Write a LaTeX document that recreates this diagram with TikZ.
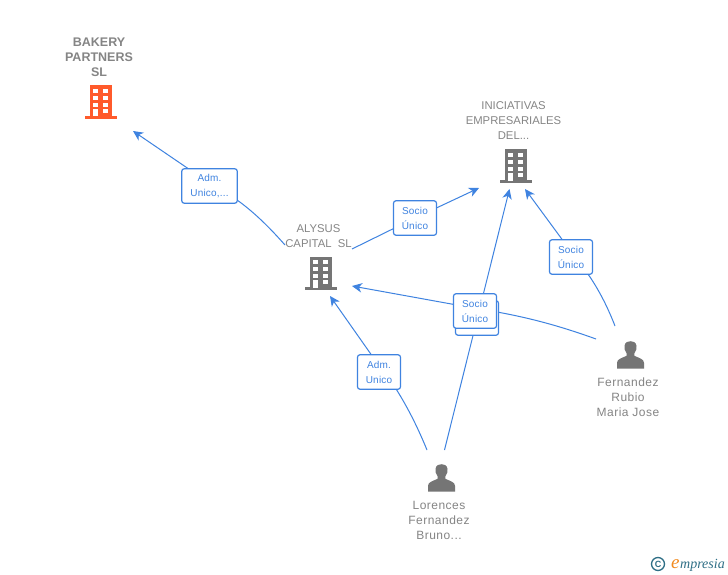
\documentclass[tikz,border=0pt]{standalone}
\usepackage{fontspec}
\setmainfont{Liberation Sans}
\newfontfamily\logofont{Liberation Serif}
\newfontfamily\spacedfont[LetterSpace=4]{Liberation Sans}
\newfontfamily\labelfont[LetterSpace=2]{Liberation Sans}
\usetikzlibrary{arrows.meta}
\definecolor{linkblue}{HTML}{3F83E0}
\definecolor{labgray}{HTML}{858585}
\definecolor{icongray}{HTML}{757575}
\definecolor{iconorange}{HTML}{FF5A2B}
\definecolor{logoteal}{HTML}{2F6F86}
\definecolor{logoorange}{HTML}{F28A1E}
\tikzset{
  x=1pt,y=-1pt,
  conn/.style={draw=linkblue,line width=1pt,-{Stealth[length=10pt,width=9.5pt,inset=3pt]}},
  lab/.style={draw=linkblue,fill=white,line width=1.2pt,rounded corners=2.5pt,minimum width=43pt,minimum height=34.5pt,inner sep=0pt,align=center,text=linkblue,font=\labelfont\fontsize{10}{15}\selectfont},
  nametext/.style={align=center,text=labgray,font=\fontsize{11.3}{15}\selectfont},
  persontext/.style={align=center,text=labgray,font=\spacedfont\fontsize{12}{15}\selectfont},
  bnametext/.style={align=center,text=labgray,font=\fontsize{12.5}{15}\selectfont\bfseries},
  pics/bldg/.style={code={
    \fill[#1] (-11,-17) rectangle (11,14);
    \fill[#1] (-16,13.7) rectangle (16,16.5);
    \foreach \yy in {-13.2,-6.5,0.2}{
      \fill[white] (-7.7,\yy) rectangle (-2.7,\yy+4);
      \fill[white] (2.3,\yy) rectangle (7.3,\yy+4);}
    \fill[white] (-7.7,6.8) rectangle (-2.7,14);
    \fill[white] (2.3,6.8) rectangle (7.3,10.8);
  }},
  pics/person/.style={code={
    \fill[icongray] (-13.5,13.5) -- (-13.5,8) .. controls (-13.5,4) and (-9,3.2) .. (-3.8,0.8)
      -- (-3.8,-1.5) .. controls (-5.8,-4) and (-6.3,-7) .. (-6,-9)
      .. controls (-5.6,-13) and (-2.5,-13.8) .. (0,-13.8)
      .. controls (2.5,-13.8) and (5.6,-13) .. (6,-9)
      .. controls (6.3,-7) and (5.8,-4) .. (3.8,-1.5)
      -- (3.8,0.8) .. controls (9,3.2) and (13.5,4) .. (13.5,8) -- (13.5,13.5) -- cycle;
  }}
}
\begin{document}
\begin{tikzpicture}
\useasboundingbox[fill=white] (0,0) rectangle (728,575);
% icons
\pic at (101,102.5) {bldg=iconorange};
\pic at (321,273.5) {bldg=icongray};
\pic at (516,166.5) {bldg=icongray};
\pic at (630.5,355) {person};
\pic at (441.5,478) {person};
% names
\node[bnametext] (bakery) at (99,57) {BAKERY\\PARTNERS\\SL};
\node[nametext] (alysus) at (318.5,236) {ALYSUS\\CAPITAL\ \ SL};
\node[nametext] (inic) at (513.5,121) {INICIATIVAS\\EMPRESARIALES\\DEL...};
\node[persontext] (fern) at (628,397) {Fernandez\\Rubio\\Maria Jose};
\node[persontext] (lor) at (439,520) {Lorences\\Fernandez\\Bruno...};
% connector end points
\coordinate (e1s) at (285,245); \coordinate (e1t) at (133,131);
\coordinate (e2s) at (352,249); \coordinate (e2t) at (479,188);
\coordinate (e3s) at (427,450); \coordinate (e3t) at (330,296);
\coordinate (e4s) at (444.5,450); \coordinate (e4t) at (509.5,189);
\coordinate (e5s) at (596,339); \coordinate (e5t) at (352,286);
\coordinate (e6s) at (615,326); \coordinate (e6t) at (525,189);
\draw[conn] (e1s) .. controls (270,228) and (254,212) .. (237,200) -- (188,168.5) -- (e1t);
\draw[conn] (e2s) -- (415,218) -- (e2t);
\draw[conn] (e3s) .. controls (418,428) and (408,408) .. (396.7,390) -- (371,354.3) -- (e3t);
\draw[conn] (e4s) -- (e4t);
\draw[conn] (e5s) .. controls (560,326) and (530,318) .. (497,312) -- (453,304.3) -- (e5t);
\draw[conn] (e6s) .. controls (608,308) and (600,292) .. (590,277) -- (562,239.3) -- (e6t);
% labels
\node[lab,minimum width=55.5pt] (l1) at (209.5,186) {Adm.\\Unico,...};
\node[lab] (l2) at (415,218) {Socio\\Único};
\node[lab] (l3) at (379,372) {Adm.\\Unico};
\node[lab] (l6) at (571,257) {Socio\\Único};
\node[lab] (l4) at (477,318) {};
\node[lab] (l5) at (475,311) {Socio\\Único};
% logo
\node[draw=logoteal,circle,line width=1.3pt,minimum size=13pt,inner sep=0pt,text=logoteal,font=\fontsize{9}{9}\selectfont\bfseries] (copy) at (658,564) {C};
\node[inner sep=0pt,anchor=base west,text=logoorange,font=\fontsize{19}{19}\selectfont\logofont\itshape] (elogo) at (671,568.5) {e};
\node[inner sep=0pt,anchor=base west,text=logoteal,font=\fontsize{14}{14}\selectfont\logofont\itshape] (rest) at (680,568.5) {mpresia};
\end{tikzpicture}
\end{document}
